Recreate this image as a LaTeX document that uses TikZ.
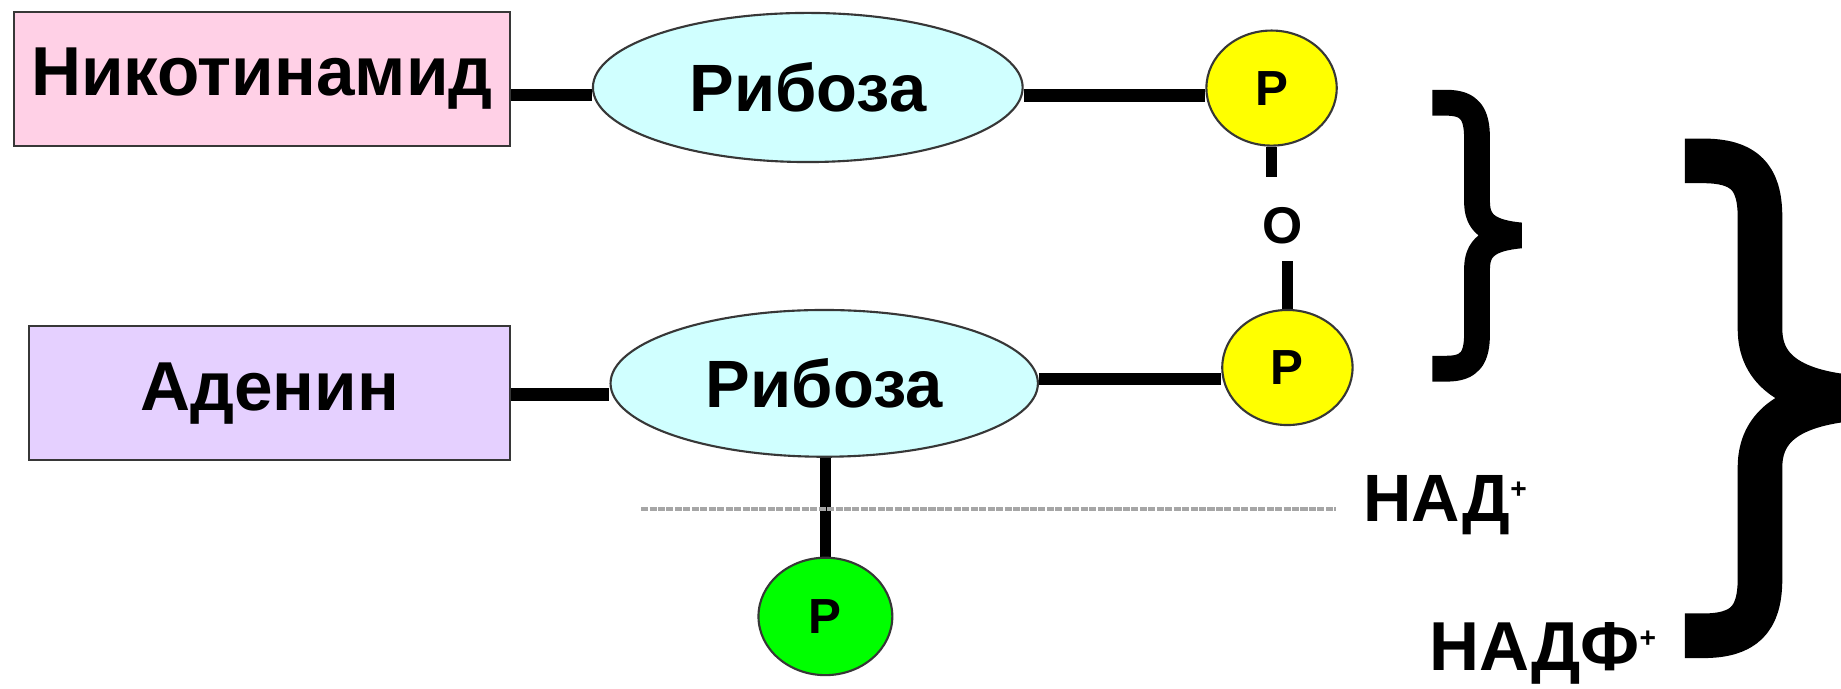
\documentclass[tikz,border=0pt]{standalone}
\usepackage{fontspec}
\setmainfont{Liberation Sans}
\usetikzlibrary{shapes.geometric,backgrounds}
\definecolor{nicpink}{RGB}{255,208,230}
\definecolor{adelilac}{RGB}{229,208,255}
\definecolor{ribcyan}{RGB}{208,255,255}
\definecolor{phyellow}{RGB}{255,255,0}
\definecolor{phgreen}{RGB}{0,255,0}
\definecolor{edge}{RGB}{55,55,55}
\newcommand{\plus}{\raisebox{9.7pt}{\fontsize{12}{12}\selectfont+}}
\tikzset{
  base/.style={draw=edge,line width=0.9pt,inner sep=0pt,font=\bfseries\fontsize{29.5}{30}\selectfont},
  basebox/.style={base,rectangle,minimum height=57pt},
  ribose/.style={base,ellipse,fill=ribcyan,font=\bfseries\fontsize{28.5}{30}\selectfont},
  phos/.style={base,ellipse,fill=phyellow,minimum width=55.5pt,minimum height=49pt,
    font=\bfseries\fontsize{21}{22}\selectfont},
  bond/.style={line width=5.3pt},
  vbond/.style={line width=4.7pt},
  lbl/.style={inner sep=0pt,font=\bfseries\fontsize{28.5}{30}\selectfont},
  bracket/.style={line width=#1,line join=bevel}
}
\begin{document}
\begin{tikzpicture}[x=0.5pt,y=-0.5pt]
\useasboundingbox (0,0) rectangle (1568,586);
% building blocks of the dinucleotide
\node[basebox,fill=nicpink,minimum width=211pt] (nic) at (223,67) {Никотинамид};
\node[basebox,fill=adelilac,minimum width=204.5pt] (ade) at (229.5,335) {Аденин};
\node[ribose,minimum width=183pt,minimum height=63.5pt] (rib1) at (688,74.5) {Рибоза};
\node[ribose,minimum width=182pt,minimum height=62.5pt] (rib2) at (702,326.5) {Рибоза};
\node[phos] (p1) at (1083,75) {P};
\node[phos] (p2) at (1096.5,313) {P};
\node[phos,fill=phgreen,minimum width=57pt,minimum height=50pt] (p3) at (703,525) {P};
\node[inner sep=0pt,font=\bfseries\fontsize{22}{22}\selectfont] (o) at (1092,192) {O};
% labels
\node[lbl,anchor=base west] (nad) at (1161,444) {НАД\plus};
\node[lbl,anchor=base west,font=\bfseries\fontsize{29.5}{30}\selectfont] (nadf) at (1217,571) {НАДФ\plus};
\coordinate (gl) at (546,433.5);
% bonds, drawn beneath the shapes
\begin{scope}[on background layer]
  \fill[white] (0,0) rectangle (1568,586);
  \draw[bond] (nic.east |- 0,81) -- (rib1.west |- 0,81);
  \draw[bond] (rib1.east |- 0,81.5) -- (p1.west |- 0,81.5);
  \draw[bond] (ade.east |- 0,336) -- (rib2.west |- 0,336);
  \draw[bond] (rib2.east |- 0,323) -- (p2.west |- 0,323);
  \draw[vbond] (p1.south) -- ([yshift=12.5pt]p1.south |- o.north);
  \draw[vbond] (p2.north) -- ([yshift=-7pt]p2.north |- o.south);
  \draw[vbond] (p3.north) -- (p3.north |- rib2.south);
  \draw[gray!70,line width=1.3pt,dash pattern=on 3pt off 0.6pt] (gl) -- ([xshift=-11.5pt]nad.west |- gl);
\end{scope}
% braces
\draw[bracket=11pt] (1220,87.5) -- (1232,87.5) .. controls (1252,87.5) and (1258,97) .. (1258,118)
  -- (1258,172) .. controls (1258,190) and (1268,198) .. (1295,200.5)
  .. controls (1268,203) and (1258,211) .. (1258,229)
  -- (1258,284) .. controls (1258,305) and (1252,314) .. (1232,314) -- (1220,314);
\draw[bracket=19pt] (1435,137) -- (1450,137) .. controls (1485,137) and (1499,150) .. (1499,185)
  -- (1499,280) .. controls (1499,315) and (1525,335) .. (1585,339)
  .. controls (1525,343) and (1499,363) .. (1499,398)
  -- (1499,493) .. controls (1499,528) and (1485,541.5) .. (1450,541.5) -- (1435,541.5);
\end{tikzpicture}
\end{document}
